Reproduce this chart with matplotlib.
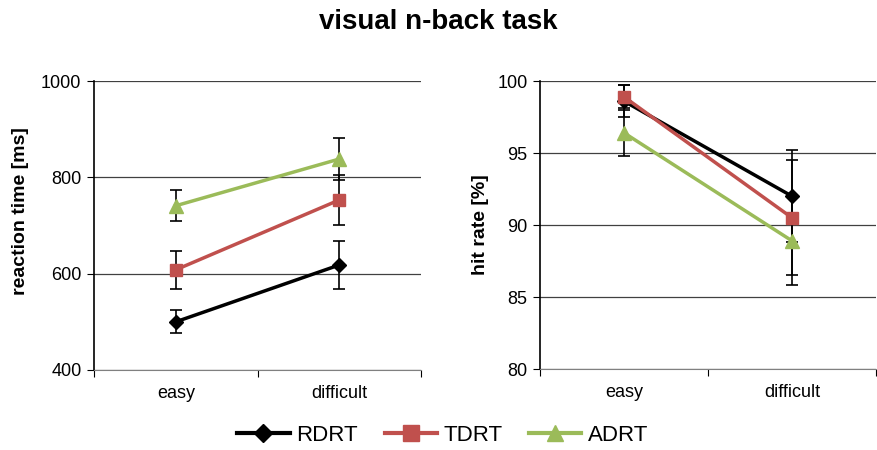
import matplotlib.pyplot as plt
from matplotlib.lines import Line2D

plt.rcParams['font.family'] = ['Liberation Sans', 'DejaVu Sans']

conditions = ["easy", "difficult"]
series_names = ["RDRT", "TDRT", "ADRT"]
colors = ["#000000", "#C0504D", "#9BBB59"]
markers = ["D", "s", "^"]
marker_sizes = [7, 9, 10]

# reaction time [ms]
rt_means = [[500, 618], [608, 753], [741, 838]]
rt_errs = [[24, 49], [39, 51], [32, 43]]

# hit rate [%]
hr_means = [[98.6, 92.0], [98.9, 90.5], [96.4, 88.9]]
hr_errs = [[1.1, 3.2], [0.8, 4.0], [1.6, 3.1]]

fig = plt.figure(figsize=(8.77, 4.5), dpi=100)
ax1 = fig.add_axes([94 / 877, 80 / 450, 327 / 877, 289 / 450])
ax2 = fig.add_axes([540 / 877, 81 / 450, 336 / 877, 288 / 450])


def draw_panel(ax, means, errs, ylim, yticks, ylabel):
    x = [0, 1]
    for i, name in enumerate(series_names):
        ax.errorbar(x, means[i], yerr=errs[i], color=colors[i], ecolor="black",
                    elinewidth=1.2, capsize=4, capthick=1.2, lw=2.5,
                    marker=markers[i], markersize=marker_sizes[i], zorder=3)
    ax.set_xlim(-0.5, 1.5)
    ax.set_ylim(*ylim)
    ax.set_yticks(yticks)
    ax.set_xticks([-0.5, 0.5, 1.5], minor=False)
    ax.set_xticklabels([])
    ax.set_xticks([0, 1], minor=True)
    ax.set_xticklabels(conditions, minor=True)
    ax.tick_params(axis="x", which="minor", length=0, labelsize=13, pad=11)
    ax.tick_params(axis="x", which="major", length=5, direction="out")
    ax.tick_params(axis="y", length=5, direction="out", labelsize=13, pad=4)
    ax.grid(axis="y", color="#404040", lw=0.9)
    ax.set_axisbelow(True)
    for s in ["top", "right"]:
        ax.spines[s].set_visible(False)
    ax.spines["left"].set_linewidth(1.2)
    ax.spines["bottom"].set_color("#808080")
    ax.set_ylabel(ylabel, fontsize=14, fontweight="bold", labelpad=6)


draw_panel(ax1, rt_means, rt_errs, (400, 1000), [400, 600, 800, 1000], "reaction time [ms]")
draw_panel(ax2, hr_means, hr_errs, (80, 100), [80, 85, 90, 95, 100], "hit rate [%]")
ax1.yaxis.set_label_coords(-0.2, 0.55)

fig.suptitle("visual n-back task", fontsize=20, fontweight="bold", y=0.98)

handles = [Line2D([], [], color=colors[i], marker=markers[i], lw=3,
                  markersize=marker_sizes[i] + 2) for i in range(3)]
fig.legend(handles, series_names, loc="lower center", ncol=3, frameon=False,
           fontsize=16, bbox_to_anchor=(0.505, -0.025), handlelength=2.35,
           handletextpad=0.3, columnspacing=1.2, borderpad=0.2)

fig.savefig("out.png", dpi=100)
